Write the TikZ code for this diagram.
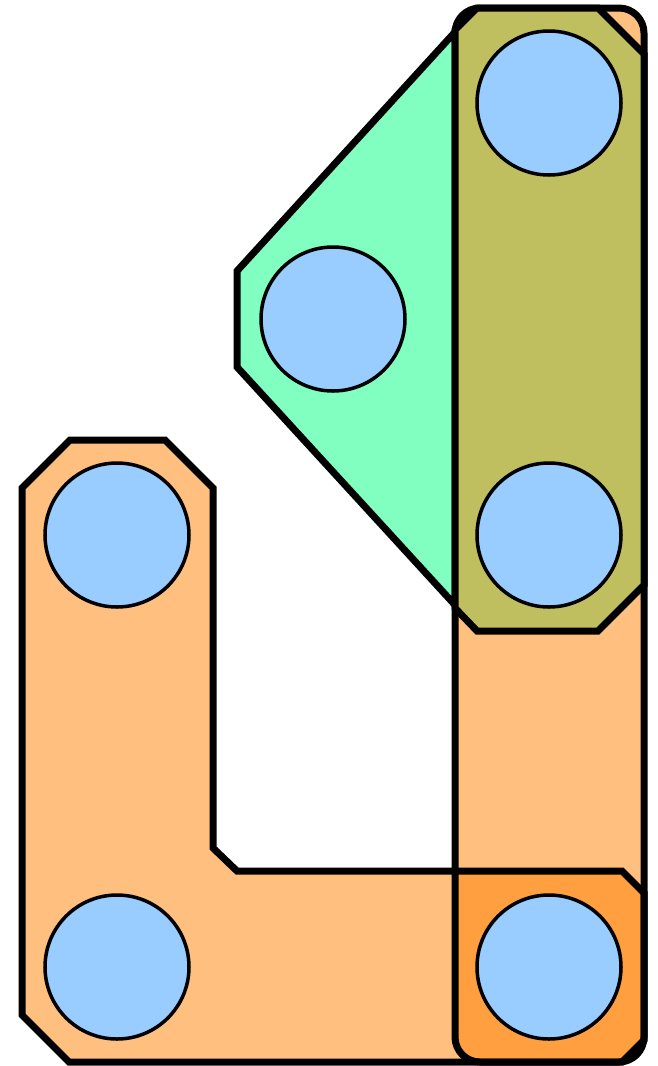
\documentclass[tikz,border=0pt]{standalone}
\usepackage{tikz}
\definecolor{hyperorange}{RGB}{255,128,0}
\definecolor{hyperolive}{RGB}{191,191,96}
\definecolor{hypergreen}{RGB}{128,255,192}
\definecolor{vertexblue}{RGB}{153,204,255}
\tikzset{
    edgeline/.style={line width=7pt},
    vertex/.style={circle, draw, line width=3.5pt, fill=vertexblue, minimum size=144pt, inner sep=0pt}
}

\begin{document}
\begin{tikzpicture}[x=1pt, y=-1pt]
    \useasboundingbox (0,0) rectangle (657,1066);
    % light orange hyperedges, filled first, outlined after
    \fill[hyperorange, fill opacity=0.5] (22,488) -- (70,440) -- (165,440) -- (213,488) -- (213,848) -- (237,871)
        -- (622,871) -- (644,893) -- (644,1040) -- (622,1062) -- (69,1062) -- (22,1015) -- cycle;
    \fill[hyperorange, fill opacity=0.5, rounded corners=25pt] (455,8) rectangle (644,1062);
    \draw[edgeline] (22,488) -- (70,440) -- (165,440) -- (213,488) -- (213,848) -- (237,871)
        -- (622,871) -- (644,893) -- (644,1040) -- (622,1062) -- (69,1062) -- (22,1015) -- cycle;
    \draw[edgeline, rounded corners=25pt] (455,8) rectangle (644,1062);
    % green and olive hyperedges
    \filldraw[edgeline, fill=hypergreen] (455,32) -- (237,271) -- (237,367) -- (455,605) -- cycle;
    \filldraw[edgeline, fill=hyperolive] (477,8) -- (598,8) -- (644,54) -- (644,585) -- (598,631)
        -- (477,631) -- (455,608) -- (455,30) -- cycle;
    % vertices
    \foreach \n/\p in {v1/{(549,103)}, v2/{(333,319)}, v3/{(549,535)}, v4/{(117,535)}, v5/{(117,967)}, v6/{(549,967)}}
        {\node[vertex] (\n) at \p {};}
\end{tikzpicture}
\end{document}
